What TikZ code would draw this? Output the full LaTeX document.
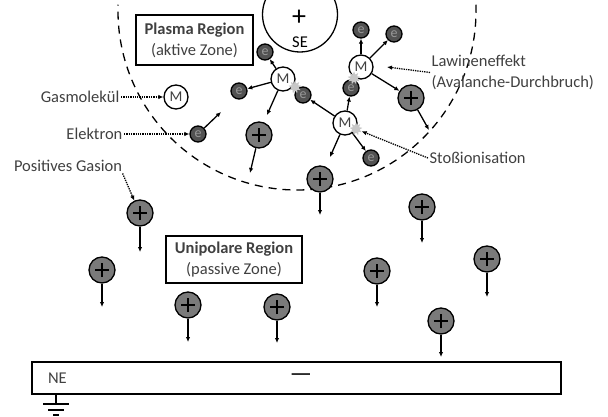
\documentclass[tikz,border=0pt]{standalone}
\usepackage{fontspec}
\setmainfont{Carlito}
\usetikzlibrary{positioning,arrows.meta,shapes.geometric}

\begin{document}
\begin{tikzpicture}[x=1pt,y=-1pt,line width=1.3pt,
    >={Latex[length=5pt,width=4.5pt]},
    font=\fontsize{16.5}{21}\selectfont,
    every node/.style={text=black!75},
    molecule node/.style={circle,draw=black,fill=white,minimum size=24pt,
      inner sep=0pt,font=\fontsize{15}{15}\selectfont},
    electron node/.style={circle,draw=black,fill=black!68,minimum size=16pt,
      inner sep=0pt,font=\fontsize{14}{14}\selectfont,text=black!40},
    ion node/.style={circle,draw=black,fill=black!52,minimum size=26pt,inner sep=0pt,
      path picture={\draw[line width=1.4pt]
        ([xshift=-7pt]path picture bounding box.center) -- ([xshift=7pt]path picture bounding box.center)
        ([yshift=-7pt]path picture bounding box.center) -- ([yshift=7pt]path picture bounding box.center);}},
    hit mark/.style={star,star points=9,star point ratio=1.8,fill=black!22,
      minimum size=13pt,inner sep=0pt},
    zone box/.style={draw=black,line width=1.6pt,align=center,inner sep=2pt},
    tag text/.style={inner sep=1pt,align=left},
    pointer/.style={densely dotted,->},
    move/.style={->}]

  \clip (0,0) rectangle (608,417);

  % boundary of the active zone and the spray electrode
  \draw[dash pattern=on 8pt off 6pt] (297,11) ++(-2:179) arc[start angle=-2,end angle=182,radius=179];
  \node[circle,draw=black,fill=white,minimum size=75pt,inner sep=0pt] (se) at (300,14.5) {};
  \node[inner sep=0pt,font=\fontsize{28}{28}\selectfont,text=black] (seplus) at (299,18) {+};
  \node[inner sep=0pt,text=black] (setext) at (300,42) {SE};

  \node[zone box,minimum width=117pt,minimum height=50pt] (plasma) at (194.5,40)
    {\textbf{Plasma Region}\\(aktive Zone)};
  \node[zone box,minimum width=136pt,minimum height=47pt] (unipolar) at (234,259.5)
    {\textbf{Unipolare Region}\\(passive Zone)};

  % molecules, electrons and ions
  \node[molecule node] (m0) at (176,97) {M};
  \node[molecule node] (m1) at (283,79) {M};
  \node[molecule node] (m2) at (345,123) {M};
  \node[molecule node] (m3) at (361,67) {M};

  \node[electron node] (e0) at (198,134) {e};
  \node[electron node] (e1) at (265,52) {e};
  \node[electron node] (e2) at (239,91) {e};
  \node[electron node] (e3) at (303,95) {e};
  \node[electron node] (e4) at (351,88) {e};
  \node[electron node] (e5) at (371,158) {e};
  \node[electron node] (e6) at (361,30) {e};
  \node[electron node] (e7) at (394,34) {e};

  \coordinate (e0to) at (221,112);
  \coordinate (m1to) at (267,115);
  \coordinate (m2to) at (330,157);

  \draw[move] (e0) -- (e0to);
  \draw[move] (m1) -- (e1);
  \draw[move] (m1) -- (e2);
  \draw[move] (m1) -- (m1to);
  \draw[move] (m2) -- (e3);
  \draw[move] (m2) -- (e4);
  \draw[move] (m2) -- (e5);
  \draw[move] (m2) -- (m2to);
  \draw[move] (m3) -- (e6);
  \draw[move] (m3) -- (e7);

  % positive ions drifting to the counter electrode
  \foreach \n/\x/\y/\ex/\ey in {1/259/135/250/173, 2/320/179/320/215, 3/411/98/429/130,
      a/140/213/140/252, b/102/270/102/307, c/188/305/188/342, d/277/307/277/343,
      e/422/207/422/243, f/377/271/377/307, g/487/259/487/297, h/441/321/441/357}{
    \node[ion node] (ion\n) at (\x,\y) {};
    \coordinate (ion\n to) at (\ex,\ey);
    \draw[move] (ion\n) -- (ion\n to);
  }
  \draw[move] (m3) -- (ion3);

  % impact points
  \node[hit mark] (b1) at (295,87) {};
  \node[hit mark] (b2) at (354,78) {};
  \node[hit mark] (b3) at (356,129) {};

  % labels
  \node[tag text,anchor=east] (gas) at (121,97) {Gasmolekül};
  \node[tag text,anchor=east] (elek) at (124,134) {Elektron};
  \node[tag text] (gasion) at (68,166) {Positives Gasion};
  \node[tag text,anchor=west] (lawine) at (430,72.5) {Lawineneffekt\\(Avalanche-Durchbruch)};
  \node[tag text,anchor=west] (stoss) at (428,158) {Stoßionisation};
  \coordinate (lawinetip) at (387,67);

  \draw[pointer] (gas) -- (m0);
  \draw[pointer] (elek) -- (e0);
  \draw[pointer] ([xshift=-1pt]gasion.south east) -- (iona.115);
  \draw[pointer] (lawine.west) -- (lawinetip);
  \draw[pointer] (stoss.west) -- (b3);

  % counter electrode with ground
  \node[draw=black,minimum width=529pt,minimum height=32pt,inner sep=0pt] (ne) at (296.5,378) {};
  \node[inner sep=0pt,right=16pt of ne.west] (netext) {NE};
  \node[inner sep=0pt,text=black,font=\fontsize{25}{25}\selectfont] (neminus) at (301,378) {\textemdash};
  \coordinate (gnd) at (56,404);
  \draw (ne.south -| gnd) -- (gnd);
  \draw ([xshift=-13pt]gnd) -- ([xshift=13pt]gnd)
        ([shift={(-8,6)}]gnd) -- ([shift={(8,6)}]gnd)
        ([shift={(-3,11)}]gnd) -- ([shift={(3,11)}]gnd);
\end{tikzpicture}
\end{document}
